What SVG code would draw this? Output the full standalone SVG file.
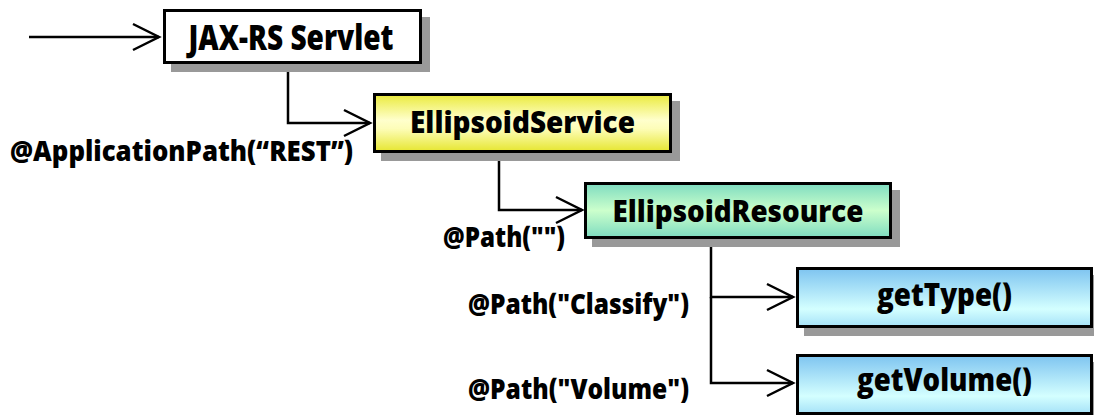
<svg xmlns="http://www.w3.org/2000/svg" width="1094" height="415" viewBox="0 0 1094 415">
  <defs>
    <linearGradient id="gYellow" x1="0" y1="0" x2="0" y2="1">
      <stop offset="0" stop-color="#eaea3c"/>
      <stop offset="0.45" stop-color="#ffffcc"/>
      <stop offset="0.6" stop-color="#fdfdb8"/>
      <stop offset="1" stop-color="#e6e630"/>
    </linearGradient>
    <linearGradient id="gGreen" x1="0" y1="0" x2="0" y2="1">
      <stop offset="0" stop-color="#7edcc0"/>
      <stop offset="0.5" stop-color="#ccffcc"/>
      <stop offset="1" stop-color="#7edcc0"/>
    </linearGradient>
    <linearGradient id="gBlue" x1="0" y1="0" x2="0" y2="1">
      <stop offset="0" stop-color="#7ec4f0"/>
      <stop offset="0.7" stop-color="#d4ffff"/>
      <stop offset="1" stop-color="#a6e2f8"/>
    </linearGradient>
    <marker id="arrow" markerUnits="userSpaceOnUse" markerWidth="34" markerHeight="34" viewBox="-30 -16 34 32" refX="0" refY="0" orient="auto">
      <path d="M-26,-13 L0,0 L-26,13" fill="none" stroke="#000" stroke-width="2.5"/>
    </marker>
  </defs>
  <style>
    .box { stroke: #000; stroke-width: 3; }
    .shadow { fill: #999; }
    .node { font-family: "Open Sans", "Liberation Sans", sans-serif; font-weight: 800; fill: #000; text-anchor: middle; }
    .lbl { font-family: "Open Sans", "Liberation Sans", sans-serif; font-weight: 800; fill: #000; font-size: 29px; }
    .conn { fill: none; stroke: #000; stroke-width: 2.5; marker-end: url(#arrow); }
  </style>
  <rect width="1094" height="415" fill="#fff"/>

  <g id="connectors">
    <path class="conn" d="M29,37 H159"/>
    <path class="conn" d="M288,64 V123 H370"/>
    <path class="conn" d="M499,153 V210 H582"/>
    <path class="conn" d="M711,239 V297 H793"/>
    <path class="conn" d="M711,297 V383 H793"/>
  </g>

  <g id="labels">
    <text class="lbl" x="10" y="161" textLength="343" lengthAdjust="spacingAndGlyphs">@ApplicationPath(“REST”)</text>
    <text class="lbl" x="443" y="247" textLength="122" lengthAdjust="spacingAndGlyphs">@Path("")</text>
    <text class="lbl" x="468" y="314" textLength="221" lengthAdjust="spacingAndGlyphs">@Path("Classify")</text>
    <text class="lbl" x="468" y="399" textLength="221" lengthAdjust="spacingAndGlyphs">@Path("Volume")</text>
  </g>

  <g id="servlet">
    <rect class="shadow" x="171" y="17" width="259" height="55"/>
    <rect class="box" x="164.5" y="10.5" width="256" height="52" fill="#fff"/>
    <text class="node" x="291" y="49.5" font-size="36" textLength="205" lengthAdjust="spacingAndGlyphs">JAX-RS Servlet</text>
  </g>

  <g id="ellipsoidService">
    <rect class="shadow" x="381" y="101" width="299" height="60"/>
    <rect class="box" x="374.5" y="94.5" width="296" height="57" fill="url(#gYellow)"/>
    <text class="node" x="522.5" y="132.5" font-size="30" textLength="225" lengthAdjust="spacingAndGlyphs">EllipsoidService</text>
  </g>

  <g id="ellipsoidResource">
    <rect class="shadow" x="592" y="190" width="308" height="57"/>
    <rect class="box" x="585.5" y="183.5" width="305" height="54" fill="url(#gGreen)"/>
    <text class="node" x="738" y="221.5" font-size="30" textLength="251" lengthAdjust="spacingAndGlyphs">EllipsoidResource</text>
  </g>

  <g id="getType">
    <rect class="shadow" x="804" y="275" width="297" height="61"/>
    <rect class="box" x="797.5" y="268.5" width="294" height="58" fill="url(#gBlue)"/>
    <text class="node" x="944.5" y="305.5" font-size="31" textLength="135" lengthAdjust="spacingAndGlyphs">getType()</text>
  </g>

  <g id="getVolume">
    <rect class="shadow" x="804" y="362" width="297" height="60"/>
    <rect class="box" x="797.5" y="355.5" width="294" height="58" fill="url(#gBlue)"/>
    <text class="node" x="944.5" y="390.5" font-size="31" textLength="175" lengthAdjust="spacingAndGlyphs">getVolume()</text>
  </g>
</svg>
